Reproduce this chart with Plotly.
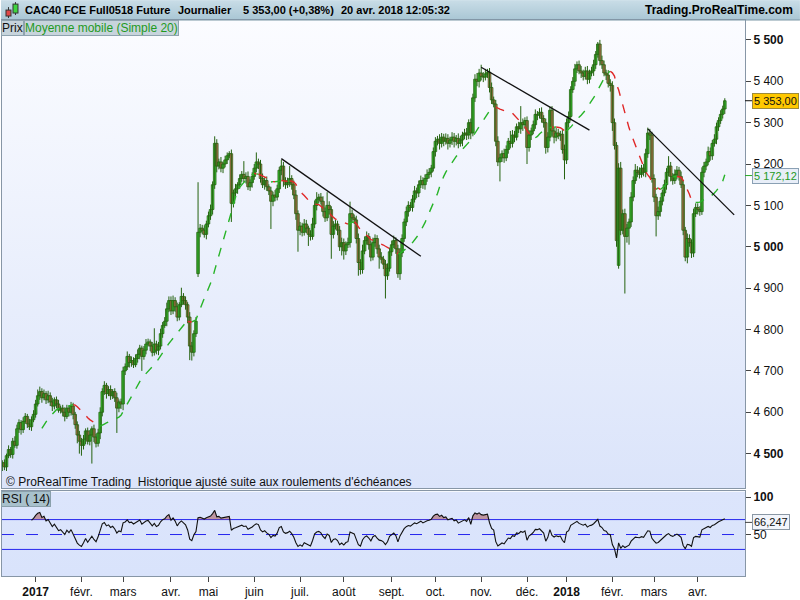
import base64
import numpy as np
import pandas as pd
import plotly.graph_objects as go

# clôtures journalières (future CAC40, historique ajusté), une liste par mois
dec16 = [4478, 4468, 4495, 4510, 4498, 4530, 4520, 4560, 4575, 4558, 4578, 4590, 4572, 4565, 4582, 4595]
jan17 = [4620, 4640, 4650, 4635, 4645, 4630, 4640, 4625, 4615, 4630, 4620, 4605, 4610, 4600, 4590, 4610, 4600, 4615, 4595, 4570, 4545, 4530]
feb17 = [4520, 4535, 4555, 4530, 4545, 4560, 4540, 4525, 4550, 4600, 4650, 4665, 4645, 4655, 4640, 4650, 4635, 4610, 4625, 4620]
mar17 = [4700, 4710, 4735, 4720, 4725, 4715, 4730, 4740, 4755, 4735, 4750, 4765, 4770, 4760, 4745, 4765, 4750, 4760, 4790, 4810, 4820, 4850, 4870]
apr17 = [4845, 4870, 4855, 4830, 4860, 4880, 4870, 4860, 4830, 4760, 4745, 4790, 4820, 5035, 5045, 5040, 5030, 5055]
may17 = [5075, 5090, 5150, 5250, 5195, 5205, 5190, 5200, 5210, 5220, 5225, 5105, 5130, 5140, 5150, 5165, 5175, 5165, 5170, 5145, 5155, 5170]
jun17 = [5190, 5205, 5200, 5165, 5150, 5160, 5145, 5135, 5110, 5125, 5120, 5140, 5185, 5195, 5160, 5150, 5155, 5165, 5150, 5125, 5080, 5040]
jul17 = [5050, 5035, 5055, 5045, 5030, 5025, 5055, 5100, 5115, 5120, 5110, 5085, 5070, 5100, 5090, 5030, 5050, 5055, 5040, 5000, 5010]
aug17 = [4990, 5005, 5010, 5080, 5070, 5065, 5020, 4962, 4945, 4990, 5015, 5025, 5005, 4975, 5010, 5020, 4995, 4975, 4970, 4958, 4930, 4948, 4988]
sep17 = [5005, 5015, 4995, 4935, 4985, 5020, 5060, 5085, 5100, 5095, 5115, 5135, 5130, 5150, 5160, 5150, 5165, 5175, 5180, 5190, 5230]
oct17 = [5255, 5260, 5250, 5265, 5255, 5262, 5250, 5258, 5265, 5255, 5262, 5250, 5258, 5270, 5275, 5270, 5300, 5275, 5360, 5405, 5400, 5420]
nov17 = [5412, 5410, 5418, 5422, 5385, 5355, 5345, 5255, 5205, 5215, 5225, 5215, 5235, 5255, 5250, 5270, 5265, 5290, 5285, 5300, 5295, 5305]
dec17 = [5240, 5270, 5280, 5295, 5320, 5318, 5325, 5310, 5300, 5240, 5265, 5330, 5280, 5265, 5275, 5268, 5272, 5235, 5210]
jan18 = [5300, 5315, 5380, 5400, 5430, 5440, 5425, 5420, 5412, 5425, 5405, 5420, 5425, 5440, 5465, 5490, 5450, 5440, 5420, 5415, 5395, 5390]
feb18 = [5300, 5245, 5015, 5190, 5040, 5080, 5025, 5045, 5060, 5120, 5160, 5185, 5180, 5175, 5190, 5180, 5225, 5275, 5270, 5165]
mar18 = [5120, 5075, 5085, 5110, 5130, 5150, 5180, 5195, 5170, 5160, 5175, 5185, 5170, 5150, 5040, 4975, 5020, 5010, 4985, 5080, 5095]
apr18 = [5090, 5085, 5180, 5195, 5205, 5230, 5220, 5250, 5260, 5290, 5305, 5320, 5333, 5353]

# mèches hautes / basses (points), même ordre
upper_wick = [
    6, 8, 5, 10, 6, 8, 12, 10, 8, 6, 10, 8, 6, 12, 8, 10,
    10, 15, 12, 8, 10, 6, 12, 8, 10, 6, 8, 10, 6, 8, 12, 8, 6, 10, 8, 6, 8, 10,
    8, 10, 6, 8, 12, 6, 10, 8, 10, 12, 8, 10, 6, 8, 10, 6, 8, 12, 6, 8,
    10, 8, 12, 6, 10, 8, 10, 12, 8, 6, 10, 12, 8, 6, 10, 38, 8, 10, 12, 8, 10, 15, 10,
    10, 12, 8, 10, 6, 21, 8, 10, 6, 12, 10, 8, 10, 121, 10, 8, 12, 8,
    10, 12, 8, 17, 10, 8, 12, 6, 10, 8, 6, 10, 8, 12, 6, 10, 8, 32, 10, 12, 8, 10,
    10, 23, 8, 10, 12, 8, 10, 6, 10, 8, 12, 10, 8, 15, 10, 8, 12, 30, 8, 10, 12, 8,
    10, 8, 12, 10, 6, 10, 15, 12, 17, 8, 10, 12, 10, 32, 10, 8, 12, 10, 8, 10, 12,
    10, 8, 12, 29, 10, 8, 10, 12, 8, 15, 10, 12, 8, 10, 12, 10, 8, 10, 12, 8, 10, 12, 10,
    10, 12, 8, 10, 12, 10, 8, 12, 10, 8, 10, 12, 8, 10, 12, 8, 10, 12, 10, 8, 10,
    10, 8, 12, 10, 8, 12, 10, 8, 12, 10, 8, 12, 10, 8, 10, 12, 8, 10, 10, 12, 15, 10,
    20, 10, 12, 8, 10, 12, 8, 10, 12, 10, 8, 12, 10, 8, 25, 12, 10, 8, 12, 40, 10, 8,
    10, 12, 8, 10, 12, 8, 10, 12, 8, 10, 12, 9, 10, 8, 12, 10, 8, 10, 12,
    10, 12, 8, 10, 12, 8, 10, 12, 8, 10, 12, 8, 10, 12, 8, 5, 10, 12, 10, 8, 12, 10,
    10, 10, 8, 12, 15, 10, 12, 10, 8, 12, 10, 15, 10, 12, 8, 10, 12, 13, 10, 8,
    10, 8, 12, 10, 8, 12, 10, 24, 10, 8, 12, 10, 8, 12, 10, 8, 12, 10, 8, 12, 10,
    10, 8, 12, 10, 8, 12, 10, 8, 12, 10, 8, 10, 8, 6,
]
lower_wick = [
    12, 8, 10, 6, 8, 10, 6, 8, 10, 12, 8, 6, 10, 8, 10, 6,
    8, 6, 10, 12, 6, 10, 8, 10, 12, 8, 10, 6, 8, 10, 12, 6, 10, 8, 12, 10, 20, 30,
    25, 10, 12, 8, 10, 69, 12, 10, 8, 15, 10, 8, 12, 6, 10, 8, 10, 60, 10, 12,
    15, 10, 8, 12, 10, 8, 6, 10, 12, 35, 8, 10, 6, 12, 10, 8, 10, 12, 8, 10, 6, 12, 8,
    10, 8, 12, 10, 8, 6, 10, 12, 15, 34, 20, 10, 8, 8, 12, 10, 8, 12,
    8, 10, 12, 10, 15, 8, 10, 12, 8, 10, 6, 45, 10, 8, 12, 10, 8, 10, 12, 8, 10, 12,
    8, 10, 12, 10, 8, 12, 10, 10, 67, 12, 10, 8, 10, 12, 15, 10, 8, 10, 12, 10, 15, 52,
    12, 10, 8, 12, 28, 10, 8, 10, 12, 10, 8, 12, 10, 8, 12, 59, 10, 8, 12, 10, 21,
    21, 10, 8, 12, 10, 10, 12, 32, 12, 10, 8, 10, 12, 10, 8, 10, 12, 28, 10, 12, 55, 10, 8,
    10, 8, 12, 10, 15, 10, 8, 10, 12, 8, 10, 8, 12, 10, 8, 10, 12, 8, 10, 12, 8,
    12, 10, 15, 10, 12, 8, 15, 10, 12, 15, 10, 12, 8, 15, 10, 12, 10, 15, 8, 10, 12, 15,
    10, 12, 8, 10, 12, 10, 8, 12, 10, 47, 10, 12, 8, 10, 12, 10, 12, 8, 10, 12, 15, 10,
    40, 10, 12, 8, 10, 12, 8, 10, 12, 15, 12, 10, 12, 15, 10, 8, 12, 10, 47,
    10, 12, 10, 8, 12, 10, 8, 12, 10, 8, 12, 10, 8, 12, 10, 8, 12, 10, 8, 12, 10, 15,
    20, 10, 15, 8, 12, 10, 138, 15, 40, 12, 10, 8, 12, 10, 8, 10, 12, 10, 12, 10,
    12, 50, 10, 12, 10, 8, 12, 10, 12, 10, 8, 12, 10, 8, 12, 10, 15, 10, 12, 10, 8,
    12, 10, 8, 12, 10, 8, 12, 10, 8, 12, 10, 8, 10, 12,
]
first_open = 4470
gap_opens = {94: 4935, 296: 4955}   # ouvertures en gap (index de séance)

holidays = ["2016-12-26", "2017-04-14", "2017-04-17", "2017-05-01", "2017-12-25",
            "2017-12-26", "2018-01-01", "2018-03-30", "2018-04-02"]
month_names = ["janv.", "févr.", "mars", "avr.", "mai", "juin", "juil.", "août",
               "sept.", "oct.", "nov.", "déc."]
price_ticks = [4500, 4600, 4700, 4800, 4900, 5000, 5100, 5200, 5300, 5400, 5500]
rsi_levels = [30, 50, 70]
ma_last = 5172.12     # valeur affichée de la moyenne mobile
rsi_last = 66.247     # valeur affichée du RSI
# lignes de tendance tracées à la main : (séance, cours) -> (séance, cours)
trendlines = [((134, 5213), (201, 4977)), ((230, 5434), (282, 5282)), ((310, 5285), (351.5, 5077))]

closes = (dec16 + jan17 + feb17 + mar17 + apr17 + may17 + jun17 + jul17 + aug17 + sep17
          + oct17 + nov17 + dec17 + jan18 + feb18 + mar18 + apr18)
n = len(closes)
dates = pd.bdate_range("2016-12-08", "2018-04-20")
dates = dates[~dates.isin(pd.to_datetime(holidays))][:n]
x = list(range(n))
x_range = [-0.16, 356.7]

opens = [first_open] + closes[:-1]
for k, v in gap_opens.items():
    opens[k] = v
highs = [max(o, c) + w for o, c, w in zip(opens, closes, upper_wick)]
lows = [min(o, c) - w for o, c, w in zip(opens, closes, lower_wick)]

s = pd.Series(closes, dtype=float)
ma = s.rolling(20).mean().values
d = s.diff()
gain = d.clip(lower=0).ewm(alpha=1 / 14, adjust=True).mean()
loss = (-d.clip(upper=0)).ewm(alpha=1 / 14, adjust=True).mean()
rsi = (100 - 100 / (1 + gain / loss)).values
rsi[:14] = np.nan

# moyenne mobile : vert quand elle monte, rouge quand elle baisse
runs = {"up": ([], []), "down": ([], [])}
prev = None
for i in range(1, n):
    if np.isnan(ma[i - 1]):
        continue
    c = "up" if ma[i] >= ma[i - 1] else "down"
    xs, ys = runs[c]
    if c != prev:
        if xs:
            xs.append(None)
            ys.append(None)
        xs.append(i - 1)
        ys.append(ma[i - 1])
    xs.append(i)
    ys.append(ma[i])
    prev = c

# repères de mois
tickvals, ticktext = [], []
for i in range(1, n):
    if dates[i].month != dates[i - 1].month:
        tickvals.append(i)
        m = dates[i].month
        ticktext.append(f"<b>{dates[i].year}</b>" if m == 1 else month_names[m - 1])


def fr(v):
    return f"{v:,}".replace(",", " ")


# géométrie de la page (pixels -> papier)
def py(p):
    return (579 - p) / 559


def px(p):
    return (p - 1) / 744


def svg_uri(svg):
    return "data:image/svg+xml;base64," + base64.b64encode(svg.encode()).decode()


def grad(c1, c2):
    return svg_uri('<svg xmlns="http://www.w3.org/2000/svg" width="10" height="100" preserveAspectRatio="none">'
                   '<defs><linearGradient id="g" x1="0" y1="0" x2="0" y2="1">'
                   f'<stop offset="0" stop-color="{c1}"/><stop offset="1" stop-color="{c2}"/>'
                   '</linearGradient></defs><rect width="10" height="100" fill="url(#g)"/></svg>')


icon = svg_uri('<svg xmlns="http://www.w3.org/2000/svg" width="16" height="16">'
               '<line x1="4.5" y1="5" x2="4.5" y2="16" stroke="#333"/>'
               '<rect x="2" y="8" width="5" height="6" fill="#e04848" stroke="#333"/>'
               '<line x1="11.5" y1="0" x2="11.5" y2="13" stroke="#333"/>'
               '<rect x="9" y="2" width="5" height="9" fill="#3fd43f" stroke="#333"/></svg>')

FONT = "Liberation Sans, Arial, sans-serif"
DARK = "#24620f"

fig = go.Figure()
# bougies : mèches puis corps
wx, wy = [], []
for i in x:
    wx += [i, i, None]
    wy += [lows[i], highs[i], None]
fig.add_trace(go.Scatter(x=wx, y=wy, mode="lines", line=dict(color=DARK, width=1),
                         hoverinfo="skip", showlegend=False))
fig.add_trace(go.Bar(
    x=x, base=[min(o, c) for o, c in zip(opens, closes)],
    y=[max(abs(c - o), 1.5) for o, c in zip(opens, closes)],
    width=1.25, marker=dict(color=["#3ddc3d" if c >= o else "#ec7068" for o, c in zip(opens, closes)],
                            line=dict(color=DARK, width=0.8)),
    hoverinfo="skip", showlegend=False))
fig.add_trace(go.Scatter(x=runs["up"][0], y=runs["up"][1], mode="lines",
                         line=dict(color="#28b428", width=1.4, dash="9px,9px"),
                         hoverinfo="skip", showlegend=False))
fig.add_trace(go.Scatter(x=runs["down"][0], y=runs["down"][1], mode="lines",
                         line=dict(color="#e02828", width=1.4, dash="9px,9px"),
                         hoverinfo="skip", showlegend=False))
for (x0, y0), (x1, y1) in trendlines:
    fig.add_trace(go.Scatter(x=[x0, x1], y=[y0, y1], mode="lines",
                             line=dict(color="#111111", width=1.3),
                             hoverinfo="skip", showlegend=False))

# RSI : niveaux, zone > 70, courbe
for lv in rsi_levels:
    fig.add_trace(go.Scatter(x=x_range, y=[lv, lv], mode="lines",
                             line=dict(color="#2626ee", width=1, dash="12px,12px" if lv == 50 else "solid"),
                             xaxis="x2", yaxis="y2", hoverinfo="skip", showlegend=False))
rsi_top = [max(v, 70) if not np.isnan(v) else np.nan for v in rsi]
fig.add_trace(go.Scatter(x=x, y=[70] * n, mode="lines", line=dict(width=0, color="rgba(0,0,0,0)"),
                         xaxis="x2", yaxis="y2", hoverinfo="skip", showlegend=False))
fig.add_trace(go.Scatter(x=x, y=rsi_top, mode="lines", line=dict(width=0, color="rgba(0,0,0,0)"),
                         fill="tonexty", fillcolor="rgba(165,85,85,0.55)",
                         xaxis="x2", yaxis="y2", hoverinfo="skip", showlegend=False))
fig.add_trace(go.Scatter(x=x, y=rsi, mode="lines", line=dict(color="#111111", width=1.1),
                         xaxis="x2", yaxis="y2", hoverinfo="skip", showlegend=False))

shapes = []
# petits traits devant les étiquettes de droite
shapes.append(dict(type="line", xref="paper", yref="y", x0=1, x1=1 + 7 / 744,
                   y0=closes[-1], y1=closes[-1], line=dict(color="#111", width=1)))
shapes.append(dict(type="line", xref="paper", yref="y", x0=1, x1=1 + 7 / 744,
                   y0=ma_last, y1=ma_last, line=dict(color="#28a828", width=1)))
shapes.append(dict(type="line", xref="paper", yref="y2", x0=1, x1=1 + 7 / 744,
                   y0=rsi_last, y1=rsi_last, line=dict(color="#444", width=1)))
# ligne sous le bandeau
shapes.append(dict(type="line", xref="paper", yref="paper", x0=px(0), x1=px(800),
                   y0=py(20), y1=py(20), line=dict(color="#7d97a6", width=1)))

images = [
    dict(source=grad("#c9dde7", "#a9c6d4"), xref="paper", yref="paper", x=px(0), y=py(0),
         sizex=px(800) - px(0), sizey=py(0) - py(20), sizing="stretch",
         xanchor="left", yanchor="top", layer="below"),
    dict(source=grad("#fbfcff", "#dbe4fa"), xref="paper", yref="paper", x=0, y=1,
         sizex=1, sizey=1 - py(491), sizing="stretch", xanchor="left", yanchor="top", layer="below"),
    dict(source=grad("#dce5fc", "#d9e3fb"), xref="paper", yref="paper", x=0, y=py(494),
         sizex=1, sizey=py(494), sizing="stretch", xanchor="left", yanchor="top", layer="below"),
    dict(source=icon, xref="paper", yref="paper", x=px(3), y=py(2), sizex=px(19) - px(3),
         sizey=py(2) - py(18), sizing="stretch", xanchor="left", yanchor="top", layer="above"),
]

hdr = dict(family=FONT, size=11, color="#000000")
annotations = [
    dict(text="<b>CAC40 FCE Full0518 Future</b>", x=px(22), y=py(10)),
    dict(text="<b>Journalier</b>", x=px(175), y=py(10)),
    dict(text="<b>5 353,00 (+0,38%)</b>", x=px(240), y=py(10)),
    dict(text="<b>20 avr. 2018 12:05:32</b>", x=px(338), y=py(10)),
]
for a in annotations:
    a.update(xref="paper", yref="paper", xanchor="left", yanchor="middle", showarrow=False, font=hdr)
annotations += [
    dict(text="<b>Trading.ProRealTime.com</b>", x=px(795), y=py(10), xref="paper", yref="paper",
         xanchor="right", yanchor="middle", showarrow=False, font=dict(family=FONT, size=12, color="#000")),
    dict(text="Prix", x=px(0), y=py(20), xref="paper", yref="paper", xanchor="left", yanchor="top",
         showarrow=False, font=dict(family=FONT, size=12, color="#111"), bgcolor="#c7d4dc",
         bordercolor="#8fa3af", borderwidth=1, borderpad=0),
    dict(text="Moyenne mobile (Simple 20)", x=px(23), y=py(20), xref="paper", yref="paper",
         xanchor="left", yanchor="top", showarrow=False,
         font=dict(family=FONT, size=12, color="#1f9a1f"), bgcolor="#c7d4dc",
         bordercolor="#8fa3af", borderwidth=1, borderpad=0),
    dict(text="© ProRealTime Trading  Historique ajusté suite aux roulements d'échéances",
         x=px(3), y=py(484), xref="paper", yref="paper", xanchor="left", yanchor="middle",
         showarrow=False, font=dict(family=FONT, size=12, color="#111")),
    dict(text="RSI ( 14)", x=px(0), y=py(494), xref="paper", yref="paper", xanchor="left",
         yanchor="top", showarrow=False, font=dict(family=FONT, size=12, color="#111"),
         bgcolor="#a8c1cc", bordercolor="#8aa0ab", borderwidth=1, borderpad=0),
    dict(text=fr(closes[-1]) + ",00", x=1, y=closes[-1], xref="paper", yref="y", xanchor="left",
         yanchor="middle", xshift=7, showarrow=False, font=dict(family=FONT, size=11, color="#111"),
         bgcolor="#ffc800", bordercolor="#9c8a3a", borderwidth=1, borderpad=1),
    dict(text=fr(int(ma_last)) + "," + f"{ma_last:.2f}".split(".")[1], x=1, y=ma_last,
         xref="paper", yref="y", xanchor="left", yanchor="middle", xshift=7, showarrow=False,
         font=dict(family=FONT, size=11, color="#1f9a1f"), bgcolor="#e8eef8",
         bordercolor="#8aa0b4", borderwidth=1, borderpad=1),
    dict(text=f"{rsi_last:.3f}".replace(".", ","), x=1, y=rsi_last, xref="paper", yref="y2",
         xanchor="left", yanchor="middle", xshift=7, showarrow=False,
         font=dict(family=FONT, size=11, color="#111"), bgcolor="#f2f5fb",
         bordercolor="#8a97a4", borderwidth=1, borderpad=1),
]

axis_line = dict(showline=True, mirror=True, linecolor="#8796a6", linewidth=1,
                 showgrid=False, zeroline=False, fixedrange=True)
fig.update_layout(
    width=800, height=600,
    margin=dict(l=1, r=55, t=20, b=21),
    paper_bgcolor="#ffffff", plot_bgcolor="rgba(0,0,0,0)",
    font=dict(family=FONT, size=12, color="#111"),
    separators=", ",
    showlegend=False,
    xaxis=dict(domain=[0, 1], anchor="y", range=x_range, showticklabels=False,
               ticks="", **axis_line),
    yaxis=dict(domain=[py(491), 1], anchor="x", side="right", range=[4415.8, 5548.1],
               tickvals=price_ticks,
               ticktext=[f"<b>{fr(v)}</b>" if v % 500 == 0 else fr(v) for v in price_ticks],
               ticks="outside", ticklen=5, tickcolor="#444", **axis_line),
    xaxis2=dict(domain=[0, 1], anchor="y2", range=x_range, tickvals=tickvals,
                ticktext=ticktext, ticks="outside", ticklen=5, tickcolor="#444",
                tickangle=0, **axis_line),
    yaxis2=dict(domain=[0, py(494)], anchor="x2", side="right", range=[-5.6, 107.7],
                tickvals=[50, 100], ticktext=["50", "<b>100</b>"],
                ticks="outside", ticklen=5, tickcolor="#444", **axis_line),
    shapes=shapes, images=images, annotations=annotations,
)

fig.write_html("out.html", config={"displayModeBar": False},
               post_script="document.body.style.margin='0';document.body.style.overflow='hidden';")
